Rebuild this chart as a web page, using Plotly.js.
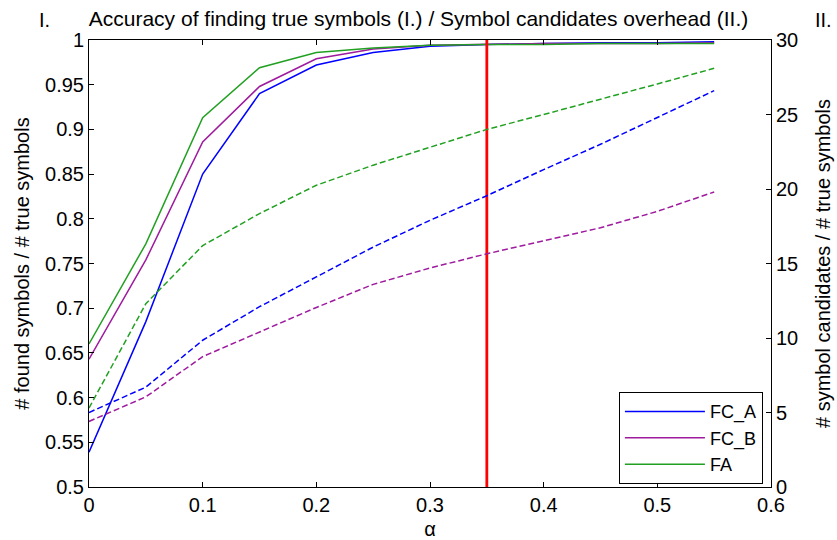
<!DOCTYPE html>
<html>
<head>
<meta charset="utf-8">
<script src="https://cdn.plot.ly/plotly-3.0.1.min.js"></script>
<style>html,body{margin:0;padding:0;background:#fff;}#chart{width:837px;height:540px;}</style>
</head>
<body>
<div id="chart"></div>
<script>
// Data
var alpha = [0, 0.05, 0.1, 0.15, 0.2, 0.25, 0.3, 0.35, 0.4, 0.45, 0.5, 0.55];
var seriesNames = ['FC_A', 'FC_B', 'FA'];
// Accuracy (left axis, I.)
var accFC_A = [0.539, 0.685, 0.850, 0.940, 0.972, 0.986, 0.993, 0.995, 0.996, 0.997, 0.997, 0.998];
var accFC_B = [0.643, 0.754, 0.886, 0.948, 0.979, 0.990, 0.994, 0.995, 0.996, 0.996, 0.996, 0.997];
var accFA   = [0.660, 0.772, 0.913, 0.969, 0.986, 0.991, 0.994, 0.995, 0.995, 0.996, 0.996, 0.996];
// Overhead (right axis, II.)
var ovFC_A = [5.0, 6.7, 9.85, 12.1, 14.1, 16.1, 17.9, 19.55, 21.3, 23.0, 24.8, 26.6];
var ovFC_B = [4.4, 6.05, 8.75, 10.4, 12.05, 13.6, 14.7, 15.65, 16.5, 17.4, 18.5, 19.8];
var ovFA   = [5.3, 12.3, 16.2, 18.35, 20.25, 21.6, 22.8, 24.0, 25.0, 26.0, 27.05, 28.1];
// Threshold marker
var thresholdX = [0.35, 0.35];
var thresholdY = [0.5, 1];
var xTicks = [0, 0.1, 0.2, 0.3, 0.4, 0.5, 0.6];
var yTicks = [0.5, 0.55, 0.6, 0.65, 0.7, 0.75, 0.8, 0.85, 0.9, 0.95, 1];
var yTickText = ['0.5', '0.55', '0.6', '0.65', '0.7', '0.75', '0.8', '0.85', '0.9', '0.95', '1'];
var y2Ticks = [0, 5, 10, 15, 20, 25, 30];

var colors = ['#0000ff', '#9e1a9e', '#22a022'];
var accs = [accFC_A, accFC_B, accFA];
var ovs = [ovFC_A, ovFC_B, ovFA];

var traces = [];
for (var i = 0; i < 3; i++) {
  traces.push({x: alpha, y: ovs[i], yaxis: 'y2', mode: 'lines', showlegend: false,
    line: {color: colors[i], width: 1.5, dash: '6px,3px'}, hoverinfo: 'skip'});
}
for (var i = 0; i < 3; i++) {
  traces.push({x: alpha, y: accs[i], mode: 'lines', name: seriesNames[i],
    line: {color: colors[i], width: 1.5}});
}
traces.push({x: thresholdX, y: thresholdY, mode: 'lines', showlegend: false,
  line: {color: '#ff0000', width: 2.8}});

var fam = 'Liberation Sans, Arial, sans-serif';
var font = {family: fam, size: 20, color: '#000'};
var layout = {
  width: 837, height: 540,
  paper_bgcolor: '#fff', plot_bgcolor: '#fff',
  font: font,
  margin: {l: 89, r: 66, t: 40, b: 53, pad: 0},
  title: {text: 'Accuracy of finding true symbols (I.) / Symbol candidates overhead (II.)',
    font: {family: fam, size: 21, color: '#000'}, x: 0.5, xanchor: 'center', y: 0.966, yanchor: 'middle'},
  showlegend: true,
  legend: {x: 0.777, y: 0.212, xanchor: 'left', yanchor: 'top', bgcolor: '#fff',
    bordercolor: '#000', borderwidth: 1, font: {family: fam, size: 18, color: '#000'},
    tracegroupgap: 0, itemwidth: 80},
  xaxis: {range: [0, 0.6], tickvals: xTicks, ticktext: xTicks.map(String), ticks: 'inside', ticklen: 5,
    tickcolor: '#000', showline: true, linecolor: '#000', linewidth: 1, mirror: 'ticks',
    showgrid: false, zeroline: false, title: {text: 'α', font: {size: 20}, standoff: 10}},
  yaxis: {range: [0.5, 1], tickvals: yTicks, ticktext: yTickText, ticks: 'inside', ticklen: 5,
    tickcolor: '#000', showline: true, linecolor: '#000', linewidth: 1, mirror: false,
    showgrid: false, zeroline: false,
    title: {text: '# found symbols / # true symbols', font: {size: 20}, standoff: 10}},
  yaxis2: {range: [0, 30], tickvals: y2Ticks, overlaying: 'y', side: 'right', ticks: 'inside', ticklen: 5,
    tickcolor: '#000', showline: true, linecolor: '#000', linewidth: 1,
    showgrid: false, zeroline: false,
    title: {text: '# symbol candidates / # true symbols', font: {size: 20}, standoff: 18}},
  annotations: [
    {text: 'I.', xref: 'paper', yref: 'paper', x: -0.065, y: 1.0447, xanchor: 'center', yanchor: 'middle',
      showarrow: false, font: {size: 20}},
    {text: 'II.', xref: 'paper', yref: 'paper', x: 1.077, y: 1.0447, xanchor: 'center', yanchor: 'middle',
      showarrow: false, font: {size: 20}}
  ]
};
Plotly.newPlot('chart', traces, layout, {displayModeBar: false, staticPlot: true});
</script>
</body>
</html>
